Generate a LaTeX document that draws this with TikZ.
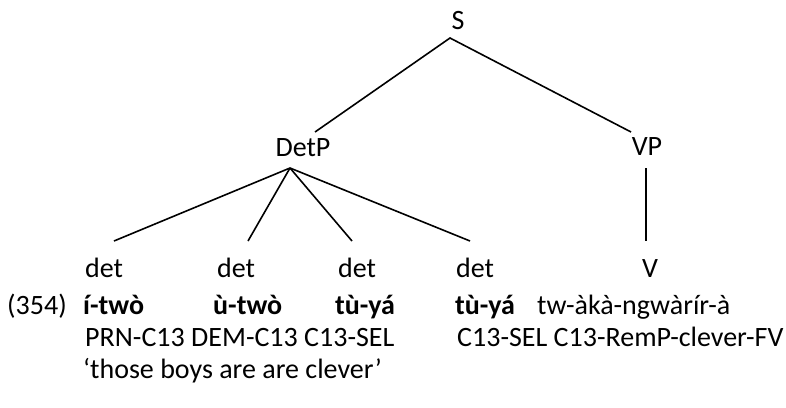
\documentclass[tikz,border=0pt]{standalone}
\usepackage{fontspec}
\setmainfont{Carlito}
\begin{document}
\begin{tikzpicture}[x=1pt,y=-1pt,
  lab/.style={anchor=base,inner sep=0pt,font=\fontsize{28}{34}\selectfont},
  labl/.style={anchor=base west,inner sep=0pt,font=\fontsize{28}{34}\selectfont},
  branch/.style={line width=1.6pt,black}]
\useasboundingbox (0,0) rectangle (786,407);

% phrase-level labels
\node[lab] (S) at (458,29) {S};
\node[lab] (DetP) at (303,156) {DetP};
\node[lab] (VP) at (647,155) {VP};

% terminal categories
\node[lab] (d1) at (104,277) {det};
\node[lab] (d2) at (236,277) {det};
\node[lab] (d3) at (357,277) {det};
\node[lab] (d4) at (475,277) {det};
\node[lab] (V)  at (650,277) {V};

% branch end points
\coordinate (S-foot) at (450,38);
\coordinate (DetP-head) at (315,132);
\coordinate (VP-head) at (631,132);
\coordinate (DetP-foot) at (290,168);
\coordinate (VP-foot) at (646,168);
\coordinate (d1-head) at (114,241);
\coordinate (d2-head) at (248,241);
\coordinate (d3-head) at (352,241);
\coordinate (d4-head) at (470,241);
\coordinate (V-head) at (646,241);

\draw[branch] (DetP-head) -- (S-foot) -- (VP-head);
\draw[branch] (DetP-foot) -- (d1-head);
\draw[branch] (DetP-foot) -- (d2-head);
\draw[branch] (DetP-foot) -- (d3-head);
\draw[branch] (DetP-foot) -- (d4-head);
\draw[branch] (VP-foot) -- (V-head);

% example line
\node[labl] (num) at (7,314) {(354)};
\node[labl] (w1) at (83,314) {\textbf{í-twò}};
\node[labl] (w2) at (213,314) {\textbf{ù-twò}};
\node[labl] (w3) at (335,314) {\textbf{tù-yá}};
\node[labl] (w4) at (455,314) {\textbf{tù-yá}};
\node[labl] (w5) at (537,314) {tw-àkà-ngwàrír-à};

% gloss line
\node[labl] (g1) at (85,346) {PRN-C13 DEM-C13 C13-SEL};
\node[labl] (g2) at (457,346) {C13-SEL C13-RemP-clever-FV};

% translation
\node[labl] (tr) at (83,378) {‘those boys are are clever’};
\end{tikzpicture}
\end{document}
